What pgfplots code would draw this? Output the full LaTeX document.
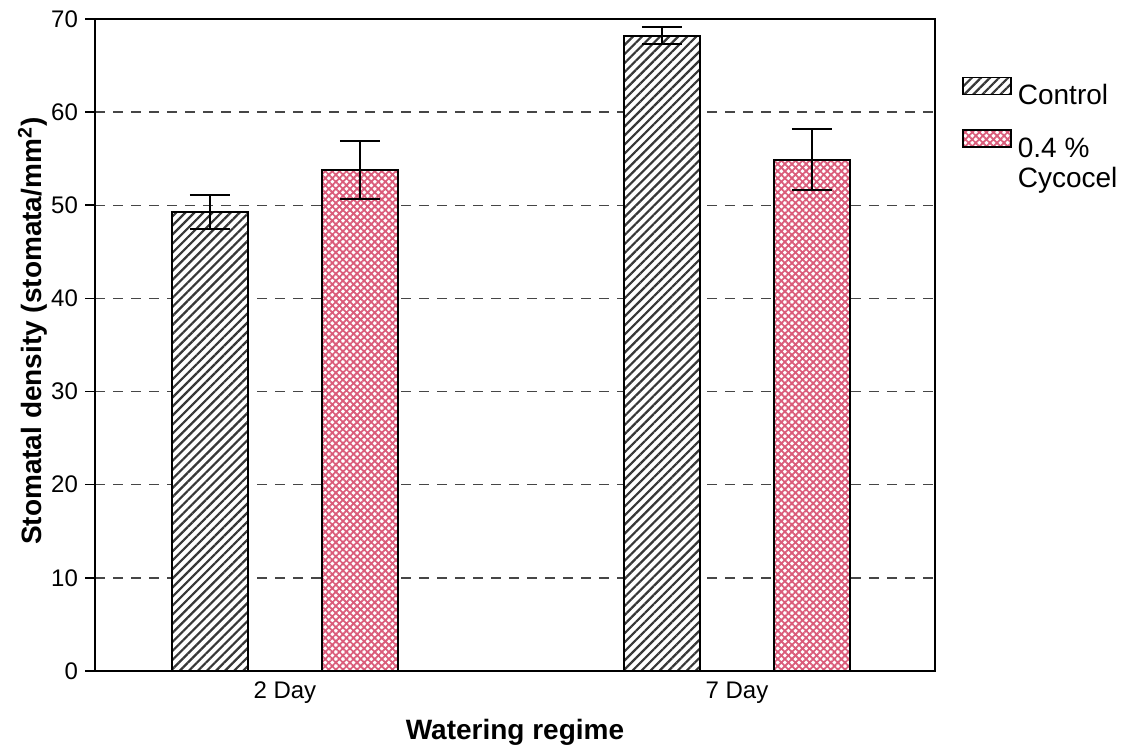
\documentclass[border=0pt]{standalone}
\usepackage{fontspec}
\setmainfont{Liberation Sans}
\usepackage{pgfplots}
\pgfplotsset{compat=1.18}
\usetikzlibrary{patterns.meta}

\definecolor{hatchgray}{RGB}{55,55,55}
\definecolor{pinkhatch}{RGB}{218,92,122}
\definecolor{gridgray}{RGB}{70,70,70}

\begin{document}
\begin{tikzpicture}
\begin{axis}[
  scale only axis,
  width=420pt, height=326pt,
  clip=false,
  ybar,
  bar width=38pt,
  xmin=-0.42, xmax=1.438,
  ymin=0, ymax=70,
  ytick={0,10,...,70},
  ytick pos=left,
  tick align=outside,
  major tick length=5pt,
  xtick={0,1},
  xticklabels={2 Day,7 Day},
  xtick style={draw=none},
  axis line style={line width=1pt},
  every tick/.style={black, line width=0.8pt},
  tick label style={font=\fontsize{12}{14}\selectfont},
  /pgf/number format/assume math mode=true,
  xticklabel style={yshift=3pt},
  ymajorgrids,
  grid style={gridgray, line width=0.7pt, dash pattern=on 5pt off 4pt},
  xlabel={\textbf{Watering regime}},
  ylabel={\textbf{Stomatal density (stomata/mm\textsuperscript{2})}},
  label style={font=\fontsize{14}{16}\selectfont},
  xlabel style={yshift=-1pt},
  ylabel style={at={(rel axis cs:-0.074,0.521)}, anchor=center},
  legend style={
    draw=none, fill=none,
    at={(rel axis cs:1.032,0.912)}, anchor=north west,
    inner sep=0pt,
    font=\fontsize{14}{16}\selectfont,
    row sep=9pt,
    column sep=1pt,
  },
  legend cell align=left,
  legend image code/.code={\draw[#1, line width=0.8pt] (0pt,0.5pt) rectangle (24pt,9pt);},
  error bars/y dir=both,
  error bars/y explicit,
  error bars/error bar style={line width=1pt, black},
  error bars/error mark options={rotate=90, mark size=10pt, line width=1pt, black},
]

% Control (hatched)
\addplot[bar shift=-37.5pt, draw=black, line width=1pt,
  postaction={pattern={Lines[angle=45,distance=3.2pt,line width=1.1pt]}, pattern color=hatchgray},
  fill=white]
  coordinates {(0,49.3) +- (0,1.8) (1,68.2) +- (0,0.9)};
\addlegendentry{Control}

% 0.4 % Cycocel (pink cross-hatch)
\addplot[bar shift=37.5pt, draw=black, line width=1pt,
  postaction={pattern={Hatch[angle=45,distance=2.5pt,line width=0.9pt]}, pattern color=pinkhatch},
  fill=white]
  coordinates {(0,53.8) +- (0,3.1) (1,54.9) +- (0,3.3)};
\addlegendentry{\begin{tabular}[t]{@{}l@{}}0.4 \%\\[-1pt]Cycocel\end{tabular}}

\coordinate (bbsw) at (rel axis cs:-0.1131,-0.1227);
\coordinate (bbne) at (rel axis cs:1.2357,1.0291);
\end{axis}
\pgfresetboundingbox
\path[use as bounding box] (bbsw) rectangle (bbne);
\end{tikzpicture}
\end{document}
